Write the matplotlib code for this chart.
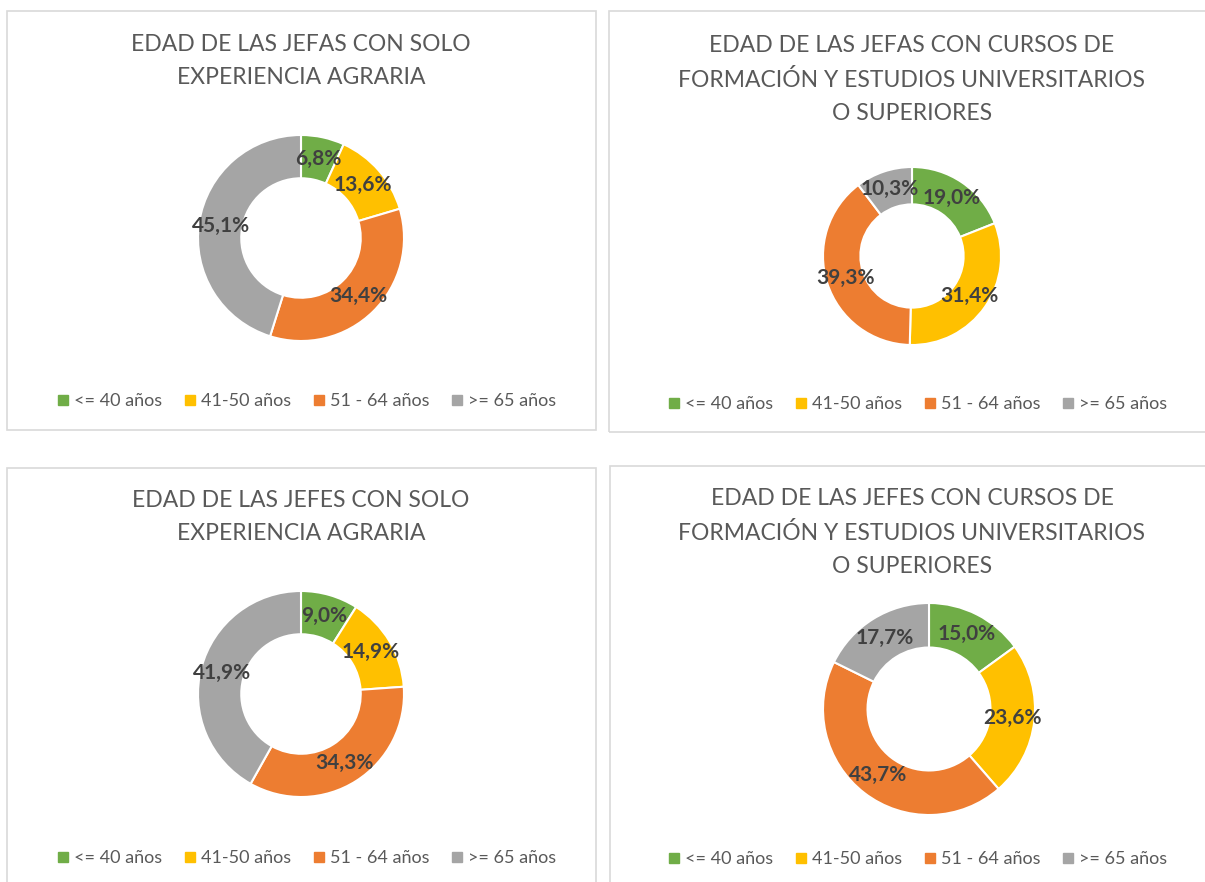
import matplotlib
matplotlib.use("Agg")
import matplotlib.pyplot as plt
from matplotlib.patches import Rectangle
from matplotlib.lines import Line2D
import numpy as np

plt.rcParams['font.family'] = ['Lato', 'DejaVu Sans']

categories = ["<= 40 años", "41-50 años", "51 - 64 años", ">= 65 años"]
colors = ["#70AD47", "#FFC000", "#ED7D31", "#A5A5A5"]

titles = [
    "EDAD DE LAS JEFAS CON SOLO\nEXPERIENCIA AGRARIA",
    "EDAD DE LAS JEFAS CON CURSOS DE\nFORMACIÓN Y ESTUDIOS UNIVERSITARIOS\nO SUPERIORES",
    "EDAD DE LAS JEFES CON SOLO\nEXPERIENCIA AGRARIA",
    "EDAD DE LAS JEFES CON CURSOS DE\nFORMACIÓN Y ESTUDIOS UNIVERSITARIOS\nO SUPERIORES",
]
jefas_agraria = [6.8, 13.6, 34.4, 45.1]
jefas_estudios = [19.0, 31.4, 39.3, 10.3]
jefes_agraria = [9.0, 14.9, 34.3, 41.9]
jefes_estudios = [15.0, 23.6, 43.7, 17.7]
series = [jefas_agraria, jefas_estudios, jefes_agraria, jefes_estudios]

W, H = 1205, 882
fig = plt.figure(figsize=(W / 100, H / 100), dpi=100)

# layout in pixels: border box, title top, donut center & radius, legend center
panels = [
    dict(box=(7, 11, 596, 430), title=(301, 34), c=(301, 238), r=103, leg=(305, 401)),
    dict(box=(609, 11, 1215, 432), title=(912, 35), c=(912, 256), r=89, leg=(916, 404)),
    dict(box=(7, 468, 596, 900), title=(301, 490), c=(301, 694), r=103, leg=(305, 858)),
    dict(box=(610, 466, 1215, 900), title=(912, 488), c=(929, 709), r=106, leg=(916, 859)),
]


def fx(px):
    return px / W


def fy(py):
    return 1 - py / H


for p, title, vals in zip(panels, titles, series):
    x0, y0, x1, y1 = p["box"]
    fig.patches.append(Rectangle((fx(x0), fy(y1)), fx(x1 - x0), (y1 - y0) / H,
                                 transform=fig.transFigure, fill=False,
                                 edgecolor="#D9D9D9", lw=1.2))
    fig.text(fx(p["title"][0]), fy(p["title"][1]), title, ha="center", va="top",
             fontsize=16.5, color="#595959", linespacing=1.72)

    cx, cy = p["c"]
    r = p["r"]
    ax = fig.add_axes([fx(cx - r), fy(cy + r), fx(2 * r), 2 * r / H])
    wedges, _ = ax.pie(vals, colors=colors, startangle=90, counterclock=False,
                       radius=1, wedgeprops=dict(width=0.42, edgecolor="white", linewidth=1.5))
    for w, v in zip(wedges, vals):
        ang = np.deg2rad((w.theta1 + w.theta2) / 2)
        rr = 0.79
        ax.text(rr * np.cos(ang), rr * np.sin(ang), f"{v:.1f}%".replace(".", ","),
                ha="center", va="center", fontsize=15, fontweight="bold", color="#404040")
    ax.set_xlim(-1, 1)
    ax.set_ylim(-1, 1)
    ax.set_aspect("equal")
    ax.axis("off")

    handles = [Line2D([], [], marker="s", linestyle="none", markersize=7,
                      markerfacecolor=c, markeredgecolor=c) for c in colors]
    fig.legend(handles, categories, loc="center", ncol=4, frameon=False,
               bbox_to_anchor=(fx(p["leg"][0]), fy(p["leg"][1])),
               fontsize=13, labelcolor="#595959", handletextpad=0.1,
               columnspacing=1.05, handlelength=1.0)

fig.savefig("out.png", dpi=100, facecolor="white")
